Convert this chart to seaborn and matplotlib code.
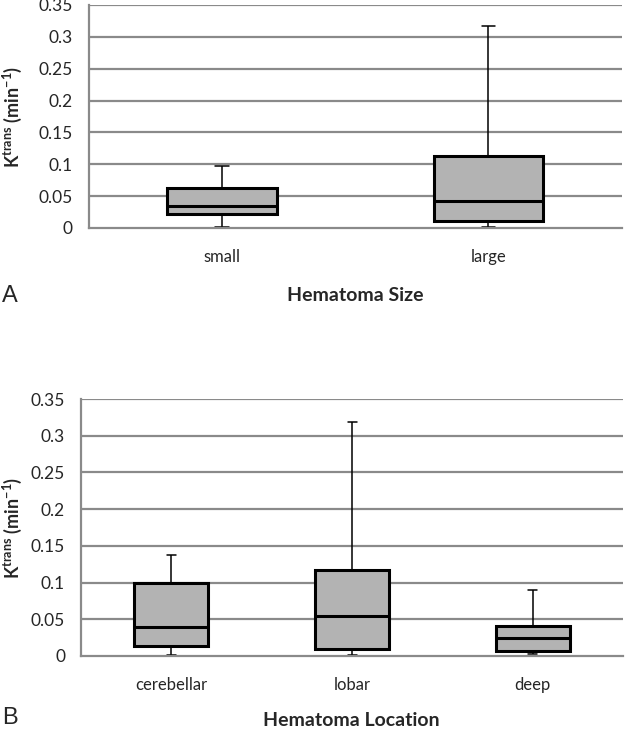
import numpy as np
import pandas as pd
import seaborn as sns
import matplotlib.pyplot as plt

# five-number summaries: min, q1, median, q3, max
size_groups = ['small', 'large']
size_min = [0.002, 0.002]
size_q1 = [0.022, 0.011]
size_med = [0.035, 0.043]
size_q3 = [0.063, 0.113]
size_max = [0.098, 0.317]

loc_groups = ['cerebellar', 'lobar', 'deep']
loc_min = [0.002, 0.002, 0.003]
loc_q1 = [0.014, 0.009, 0.007]
loc_med = [0.040, 0.054, 0.024]
loc_q3 = [0.099, 0.117, 0.041]
loc_max = [0.138, 0.319, 0.090]

y_ticks = [0, 0.05, 0.1, 0.15, 0.2, 0.25, 0.3, 0.35]
y_ticklabels = ['0', '0.05', '0.1', '0.15', '0.2', '0.25', '0.3', '0.35']

sns.set_style('white')
plt.rcParams['font.family'] = ['Lato', 'DejaVu Sans']
plt.rcParams['mathtext.fontset'] = 'custom'
plt.rcParams['mathtext.rm'] = 'Lato'
plt.rcParams['mathtext.bf'] = 'Lato:bold'

GRID = '#8a8a8a'
FILL = '#b3b3b3'


def to_long(groups, mins, q1s, meds, q3s, maxs):
    # with 5 points, linear percentiles give exactly q1/median/q3
    rows = []
    for g, a, b, c, d, e in zip(groups, mins, q1s, meds, q3s, maxs):
        for v in (a, b, c, d, e):
            rows.append({'group': g, 'value': v})
    return pd.DataFrame(rows)


def draw_panel(ax, df, groups):
    sns.boxplot(
        data=df, x='group', y='value', order=groups, ax=ax,
        whis=(0, 100), width=0.41, color=FILL, saturation=1,
        linecolor='black', linewidth=2.2, showfliers=False,
        boxprops=dict(linewidth=2.2, edgecolor='black'),
        medianprops=dict(linewidth=2.2, color='black'),
        whiskerprops=dict(linewidth=1.1, color='black'),
        capprops=dict(linewidth=1.1, color='black'),
        capwidths=0.05,
    )
    n = len(groups)
    ax.set_xlim(-0.5, n - 0.5)
    ax.set_ylim(0, 0.35)
    ax.set_yticks(y_ticks)
    ax.set_yticklabels(y_ticklabels)
    for y in y_ticks[1:]:
        ax.axhline(y, color=GRID, lw=1.6, zorder=0)
    ax.set_xticks(range(n))
    ax.set_xticklabels(groups)
    ax.set_xticks(np.arange(-0.5, n, 1.0), minor=True)
    ax.tick_params(axis='x', which='major', length=0, pad=15, labelsize=12)
    ax.tick_params(axis='x', which='minor', length=4, width=1.6, color=GRID, direction='out')
    ax.tick_params(axis='y', length=4.5, width=1.6, color=GRID, direction='out', labelsize=12.5, pad=7)
    for s in ['top', 'right']:
        ax.spines[s].set_visible(False)
    for s in ['left', 'bottom']:
        ax.spines[s].set_color(GRID)
        ax.spines[s].set_linewidth(1.6)
    ax.set_xlabel('')
    ax.set_ylabel(r'K$^{\mathbf{trans}}$ (min$^{\mathbf{-1}}$)', fontsize=13, fontweight='bold')


fig = plt.figure(figsize=(6.26, 7.30), dpi=100)
ax1 = fig.add_axes([0.142, 0.6877, 0.851, 0.3055])
ax2 = fig.add_axes([0.1294, 0.1014, 0.866, 0.352])

df_size = to_long(size_groups, size_min, size_q1, size_med, size_q3, size_max)
df_loc = to_long(loc_groups, loc_min, loc_q1, loc_med, loc_q3, loc_max)

draw_panel(ax1, df_size, size_groups)
draw_panel(ax2, df_loc, loc_groups)

ax1.yaxis.set_label_coords(-0.122, 0.5)
ax2.yaxis.set_label_coords(-0.105, 0.5)

fig.text(0.567, 1 - 295 / 730, 'Hematoma Size', ha='center', va='center',
         fontsize=14, fontweight='bold')
fig.text(0.562, 1 - 720 / 730, 'Hematoma Location', ha='center', va='center',
         fontsize=14, fontweight='bold')
fig.text(0.003, 1 - 296 / 730, 'A', ha='left', va='center', fontsize=17,
         family='Liberation Sans')
fig.text(0.003, 1 - 718 / 730, 'B', ha='left', va='center', fontsize=17,
         family='Liberation Sans')

fig.savefig('out.png', dpi=100)
